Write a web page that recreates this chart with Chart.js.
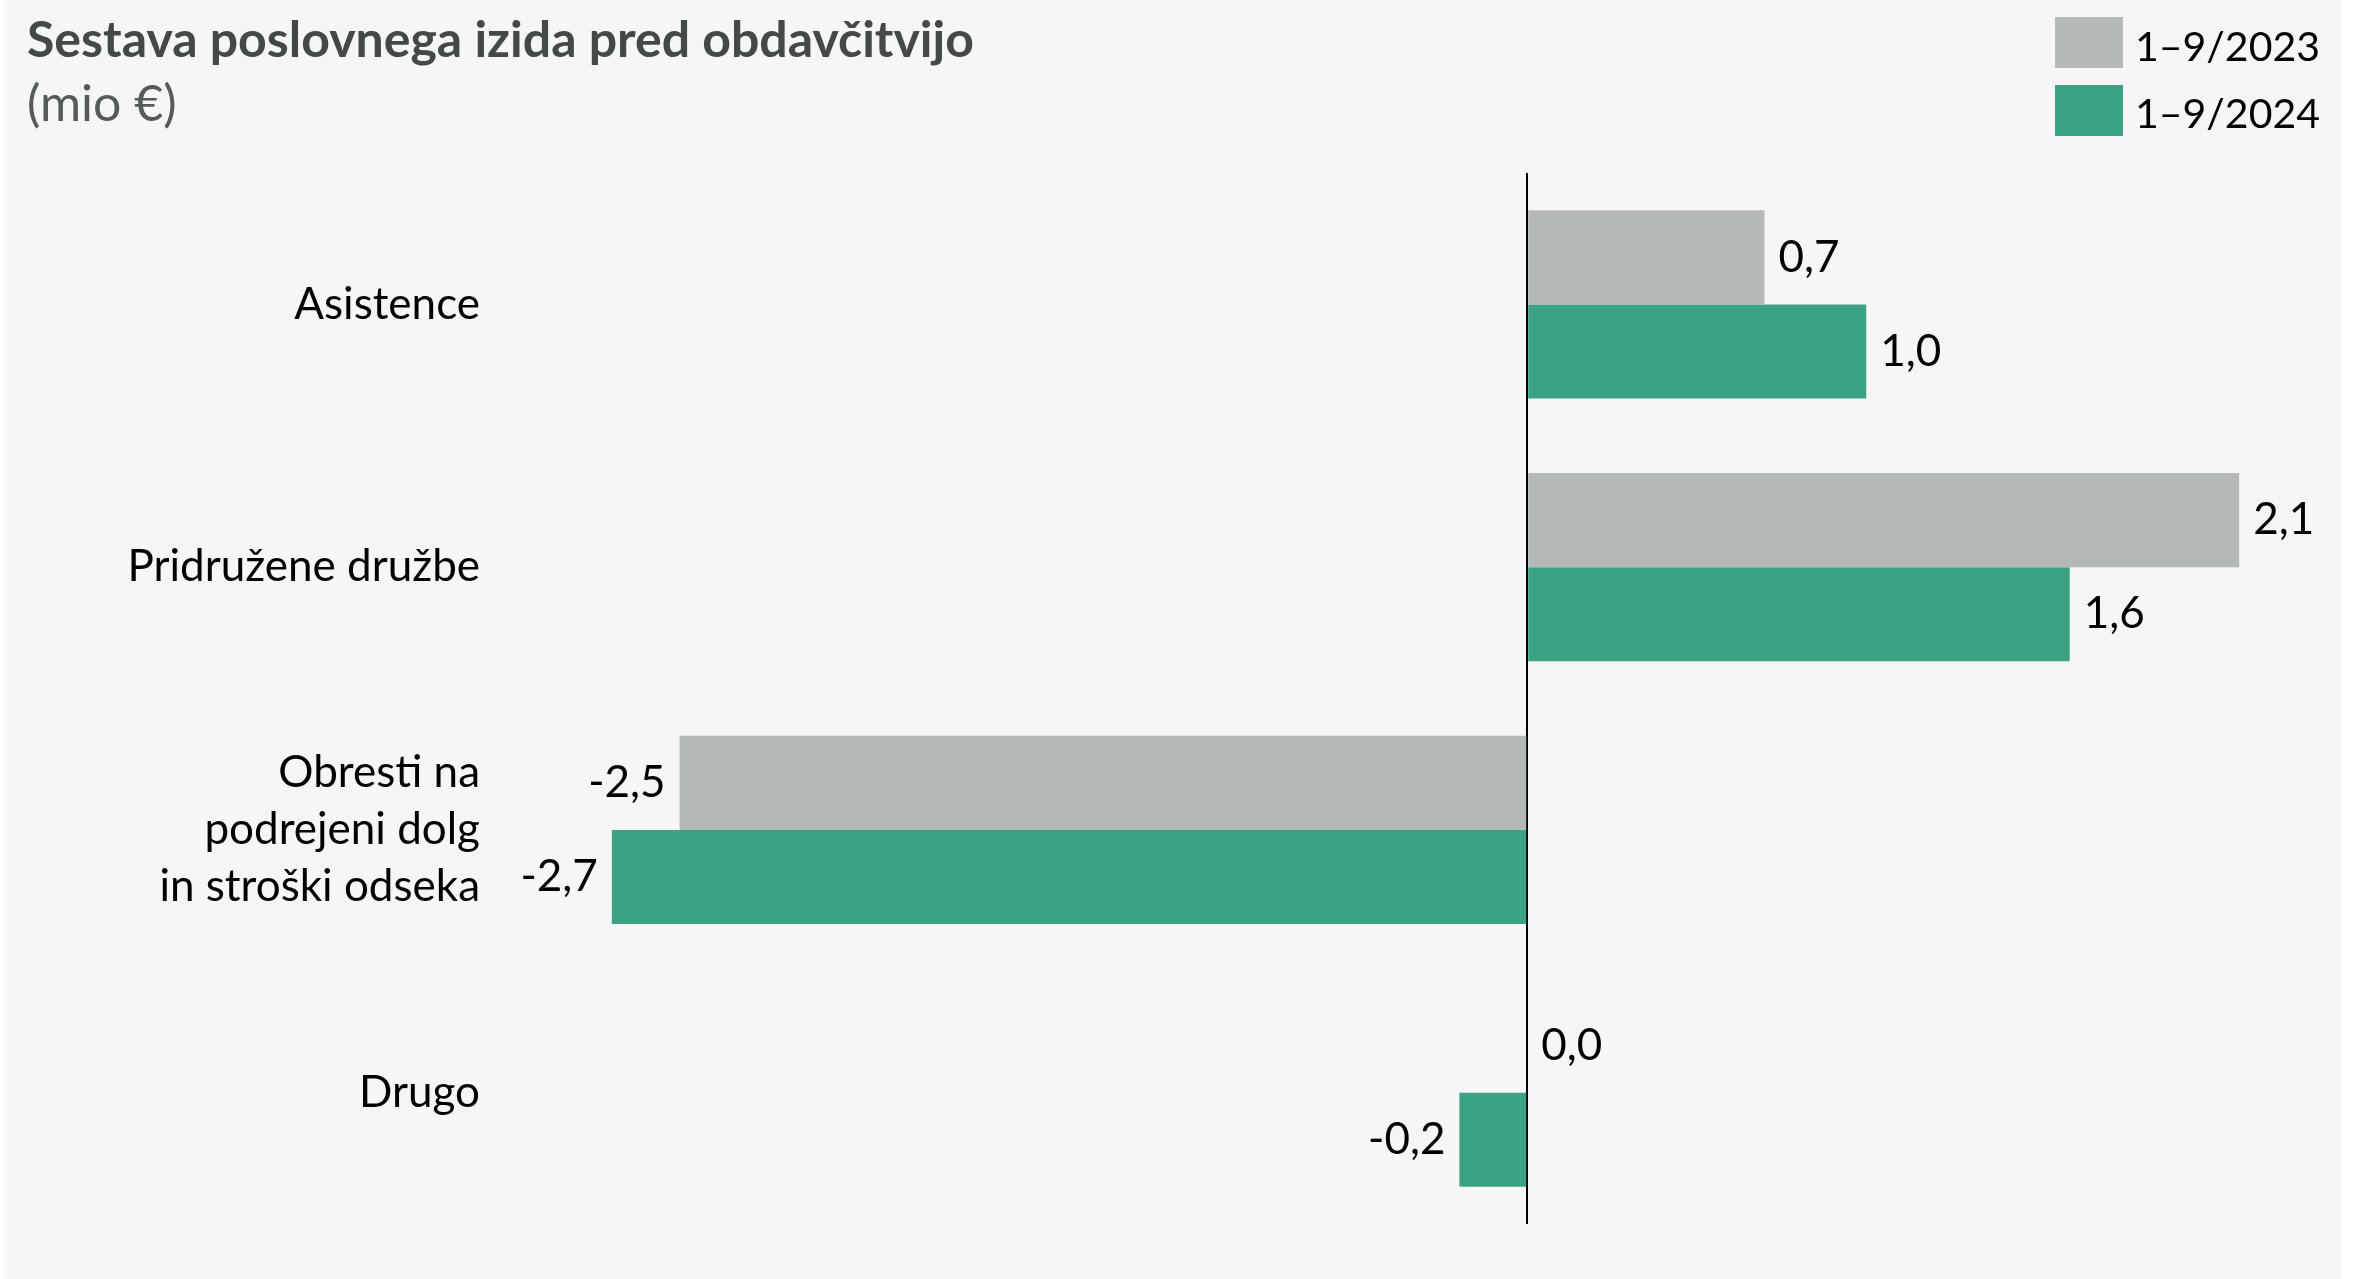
<!DOCTYPE html>
<html lang="sl">
<head>
<meta charset="utf-8">
<title>Sestava poslovnega izida pred obdavčitvijo</title>
<script src="https://cdn.jsdelivr.net/npm/chart.js@4.4.1/dist/chart.umd.min.js"></script>
<style>
  html, body { margin: 0; padding: 0; background: #fff; }
  body { width: 2369px; height: 1279px; position: relative; overflow: hidden; font-family: Lato, sans-serif; }
  #panel { position: absolute; left: 4px; top: 0; width: 2337px; height: 1279px; background: #f6f6f6; }
  #wrap { position: absolute; left: 0; top: 0; width: 2369px; height: 1279px; }
  .t { position: absolute; white-space: nowrap; line-height: 1.2; }
  #title { left: 27px; top: 8px; font-size: 50px; font-weight: 700; color: #434848; }
  #unit { left: 27px; top: 72px; font-size: 50px; color: #555a5a; }
  .lg-box { position: absolute; left: 2055px; width: 68px; height: 51px; }
  .lg-txt { left: 2135px; font-size: 41px; color: #000; }
</style>
</head>
<body>
<div id="panel"></div>
<div id="wrap"><canvas id="chart" width="2369" height="1279"></canvas></div>
<div class="t" id="title">Sestava poslovnega izida pred obdavčitvijo</div>
<div class="t" id="unit">(mio €)</div>
<div id="legend"></div>
<script>
  const categories = [
    "Asistence",
    "Pridružene družbe",
    ["Obresti na", "podrejeni dolg", "in stroški odseka"],
    "Drugo",
  ];
  const seriesNames = ["1–9/2023", "1–9/2024"];
  const values2023 = [0.7, 2.1, -2.5, 0.0];
  const values2024 = [1.0, 1.6, -2.7, -0.2];
  const colors = ["#b4b9b8", "#3ca284"];

  // legend, stacked in the top right corner
  const legend = document.getElementById("legend");
  seriesNames.forEach((name, i) => {
    const box = document.createElement("div");
    box.className = "lg-box";
    box.style.top = (17 + i * 68) + "px";
    box.style.background = colors[i];
    const txt = document.createElement("div");
    txt.className = "t lg-txt";
    txt.style.top = (21 + i * 67) + "px";
    txt.textContent = name;
    legend.append(box, txt);
  });

  const fmt = (v) => v.toFixed(1).replace(".", ",");

  // value labels next to each bar end
  const barLabels = {
    id: "barLabels",
    afterDatasetsDraw(chart) {
      const ctx = chart.ctx;
      ctx.save();
      ctx.font = "44px Lato";
      ctx.fillStyle = "#000";
      ctx.textBaseline = "middle";
      chart.data.datasets.forEach((ds, di) => {
        chart.getDatasetMeta(di).data.forEach((bar, i) => {
          const v = ds.data[i];
          const neg = v < 0;
          ctx.textAlign = neg ? "right" : "left";
          ctx.fillText(fmt(v), bar.x + (neg ? -14 : 14), bar.y);
        });
      });
      ctx.restore();
    },
  };

  new Chart(document.getElementById("chart"), {
    type: "bar",
    data: {
      labels: categories,
      datasets: seriesNames.map((name, i) => ({
        label: name,
        data: i === 0 ? values2023 : values2024,
        backgroundColor: colors[i],
        borderWidth: 0,
        barPercentage: 1,
        categoryPercentage: 0.716,
      })),
    },
    options: {
      indexAxis: "y",
      responsive: false,
      animation: false,
      events: [],
      layout: { padding: { top: 173, bottom: 55, right: 62, left: 0 } },
      plugins: { legend: { display: false }, tooltip: { enabled: false } },
      scales: {
        x: {
          min: -2.9, max: 2.3,
          afterFit: (s) => { s.height = 0; },
          ticks: { display: false, stepSize: 1 },
          border: { display: false },
          grid: {
            drawTicks: false,
            lineWidth: 2,
            color: (c) => (c.tick && c.tick.value === 0 ? "#000" : "rgba(0,0,0,0)"),
          },
        },
        y: {
          // fixed label column; tick padding should not push the plot edges
          afterFit: (s) => { s.width = 544; s.paddingTop = 0; s.paddingBottom = 0; },
          border: { display: false },
          grid: { display: false, drawTicks: false },
          ticks: {
            padding: 64,
            color: "#000",
            font: { family: "Lato", size: 44, lineHeight: 1.3 },
          },
        },
      },
    },
    plugins: [barLabels],
  });
</script>
</body>
</html>
